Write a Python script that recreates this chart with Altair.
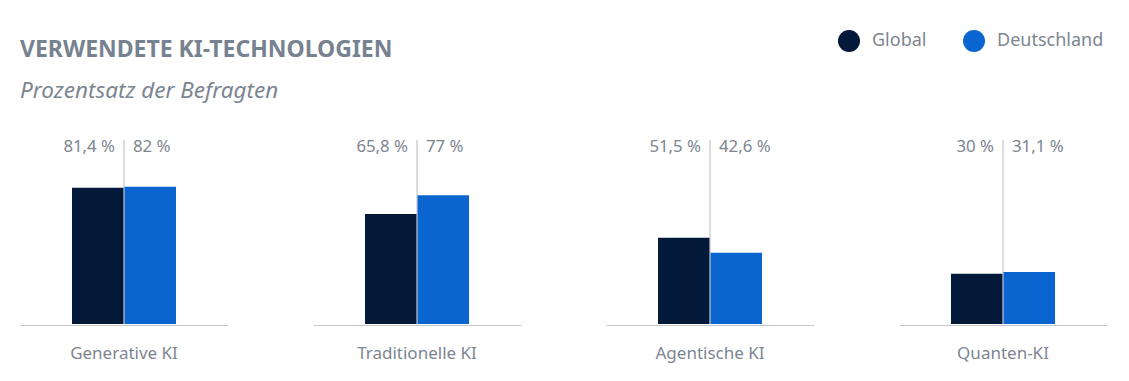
import altair as alt
import pandas as pd

categories = ["Generative KI", "Traditionelle KI", "Agentische KI", "Quanten-KI"]
series = ["Global", "Deutschland"]
global_values = [81.4, 65.8, 51.5, 30.0]
germany_values = [82.0, 77.0, 42.6, 31.1]
colors = ["#03193a", "#0a65d1"]


def fmt(v):
    s = ("%.1f" % v).rstrip("0").rstrip(".")
    return s.replace(".", ",") + " %"


rows = []
for c, g, d in zip(categories, global_values, germany_values):
    rows.append({"cat": c, "series": "Global", "value": g, "label": fmt(g)})
    rows.append({"cat": c, "series": "Deutschland", "value": d, "label": fmt(d)})
df = pd.DataFrame(rows)

FONT = "Noto Sans"
GRAY = "#7d8591"

x_enc = alt.X(
    "series:N",
    sort=series,
    scale=alt.Scale(domain=series, paddingInner=0, paddingOuter=1),
    axis=alt.Axis(labels=False, ticks=False, title=None, domainColor="#c3c7cc", domainWidth=1.2),
)
y_scale = alt.Scale(domain=[0, 110], nice=False)

bars = alt.Chart().mark_bar().encode(
    x=x_enc,
    y=alt.Y("value:Q", scale=y_scale, axis=None),
    color=alt.Color(
        "series:N",
        sort=series,
        scale=alt.Scale(domain=series, range=colors),
        legend=alt.Legend(
            title=None,
            orient="none",
            direction="horizontal",
            legendX=818,
            legendY=-110,
            symbolType="circle",
            symbolSize=484,
            symbolStrokeWidth=0,
            symbolOpacity=1,
            labelFont=FONT,
            labelFontSize=18,
            labelColor=GRAY,
            labelOffset=12,
            columnPadding=36,
        ),
    ),
)

rule = alt.Chart().transform_filter(alt.datum.series == "Deutschland").mark_rule(
    color="#c3c7cc", strokeWidth=1.2
).encode(
    x=alt.X("series:N", sort=series, bandPosition=0),
    y=alt.YDatum(0),
    y2=alt.Y2Datum(110),
)

txt_global = alt.Chart().transform_filter(alt.datum.series == "Global").mark_text(
    align="right", baseline="middle", dx=-9, font=FONT, fontSize=16.8, color=GRAY
).encode(
    x=alt.X("series:N", sort=series, bandPosition=1),
    y=alt.YDatum(106),
    text="label:N",
)

txt_de = alt.Chart().transform_filter(alt.datum.series == "Deutschland").mark_text(
    align="left", baseline="middle", dx=9, font=FONT, fontSize=16.8, color=GRAY
).encode(
    x=alt.X("series:N", sort=series, bandPosition=0),
    y=alt.YDatum(106),
    text="label:N",
)

layer = alt.layer(bars, rule, txt_global, txt_de).properties(width=208, height=184)

chart = layer.facet(
    data=df,
    column=alt.Column(
        "cat:N",
        sort=categories,
        header=alt.Header(
            title=None,
            labelOrient="bottom",
            labelFont=FONT,
            labelFontSize=17,
            labelColor=GRAY,
            labelPadding=21,
        ),
    ),
    spacing=85,
).properties(
    title=alt.TitleParams(
        text="VERWENDETE KI-TECHNOLOGIEN",
        subtitle="Prozentsatz der Befragten",
        anchor="start",
        font=FONT,
        fontSize=23,
        fontWeight="bold",
        color="#778290",
        subtitleFont=FONT,
        subtitleFontSize=22.5,
        subtitleFontStyle="italic",
        subtitleColor=GRAY,
        subtitlePadding=18,
        offset=-72,
    ),
    padding={"left": 12, "top": 22, "right": 10, "bottom": 10},
).configure_view(stroke=None)

chart.save("out.html", embed_options={"renderer": "svg", "actions": False})
